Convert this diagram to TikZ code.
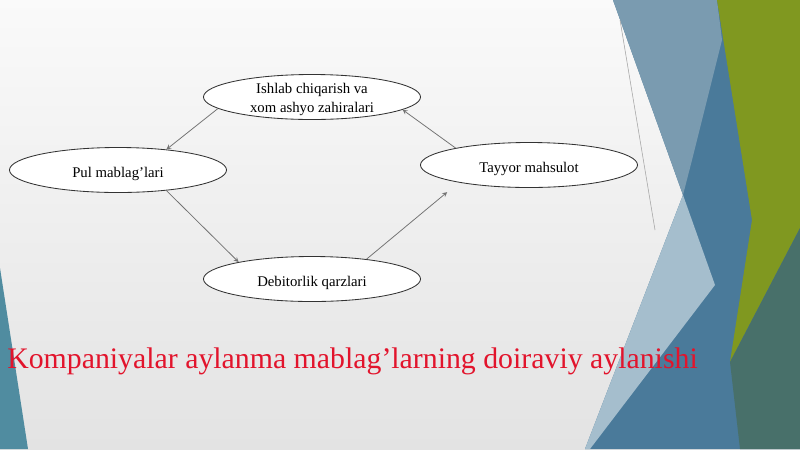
\documentclass[tikz,border=0pt]{standalone}
\usepackage{fontspec}
\setmainfont{Liberation Serif}
\usetikzlibrary{shapes.geometric,positioning}
\definecolor{slateblue}{RGB}{122,155,176}
\definecolor{steelblue}{RGB}{74,122,154}
\definecolor{paleblue}{RGB}{165,190,205}
\definecolor{olivegreen}{RGB}{128,152,32}
\definecolor{darkteal}{RGB}{72,112,106}
\definecolor{edgeteal}{RGB}{80,140,160}
\definecolor{titlered}{RGB}{226,20,44}

\begin{document}
\begin{tikzpicture}
[x=0.025cm,y=-0.025cm,>=stealth,
oval/.style = {draw=black!80, line width=0.6pt, ellipse, fill=white, inner sep=0pt,
  minimum width=5.425cm, minimum height=1.125cm, align=center,
  text height=10.5pt, text depth=0pt, font=\fontsize{10.5}{13.5}\selectfont},
arr/.style = {->, draw=black!55, line width=0.55pt},]
% slide background
\shade[top color=gray!4, bottom color=gray!22] (0,0) rectangle (800,449);
\fill[edgeteal] (0,268) -- (28,449) -- (0,449) -- cycle;
\fill[steelblue] (613,0) -- (800,0) -- (800,449) -- (585,449) -- (683,195) -- cycle;
\fill[slateblue] (613,0) -- (717,0) -- (722,40) -- (692,160) -- (683,195) -- cycle;
\fill[paleblue] (683,195) -- (715,285) -- (590,449) -- (585,449) -- cycle;
\fill[olivegreen] (717,0) -- (800,0) -- (800,228) -- (730,362) -- (752,220) -- cycle;
\fill[darkteal] (800,228) -- (730,362) -- (740,449) -- (800,449) -- cycle;
\draw[black!35, line width=0.4pt] (620,20) -- (655,230);

\node (top) at (312,97)[oval,text height=22.4pt] {Ishlab chiqarish va\\xom ashyo zahiralari};
\node (pul) at (118,170)[oval] {Pul mablag’lari};
\node (debit) at (312,279)[oval] {Debitorlik qarzlari};
\node (tayyor) at (529,165)[oval] {Tayyor mahsulot};

\draw[arr] (top.187)--(pul.23);
\draw[arr] (pul.-23)--(debit.167);
\draw[arr,shorten >=0.375cm] (debit.20)--(tayyor.194);
\draw[arr] (tayyor.167)--(top.-8);

\node (title) at (7,368)[anchor=base west, inner sep=0pt, text=titlered,
  font=\fontsize{21.2}{25}\selectfont] {Kompaniyalar aylanma mablag’larning doiraviy aylanishi};

\end{tikzpicture}
\end{document}
